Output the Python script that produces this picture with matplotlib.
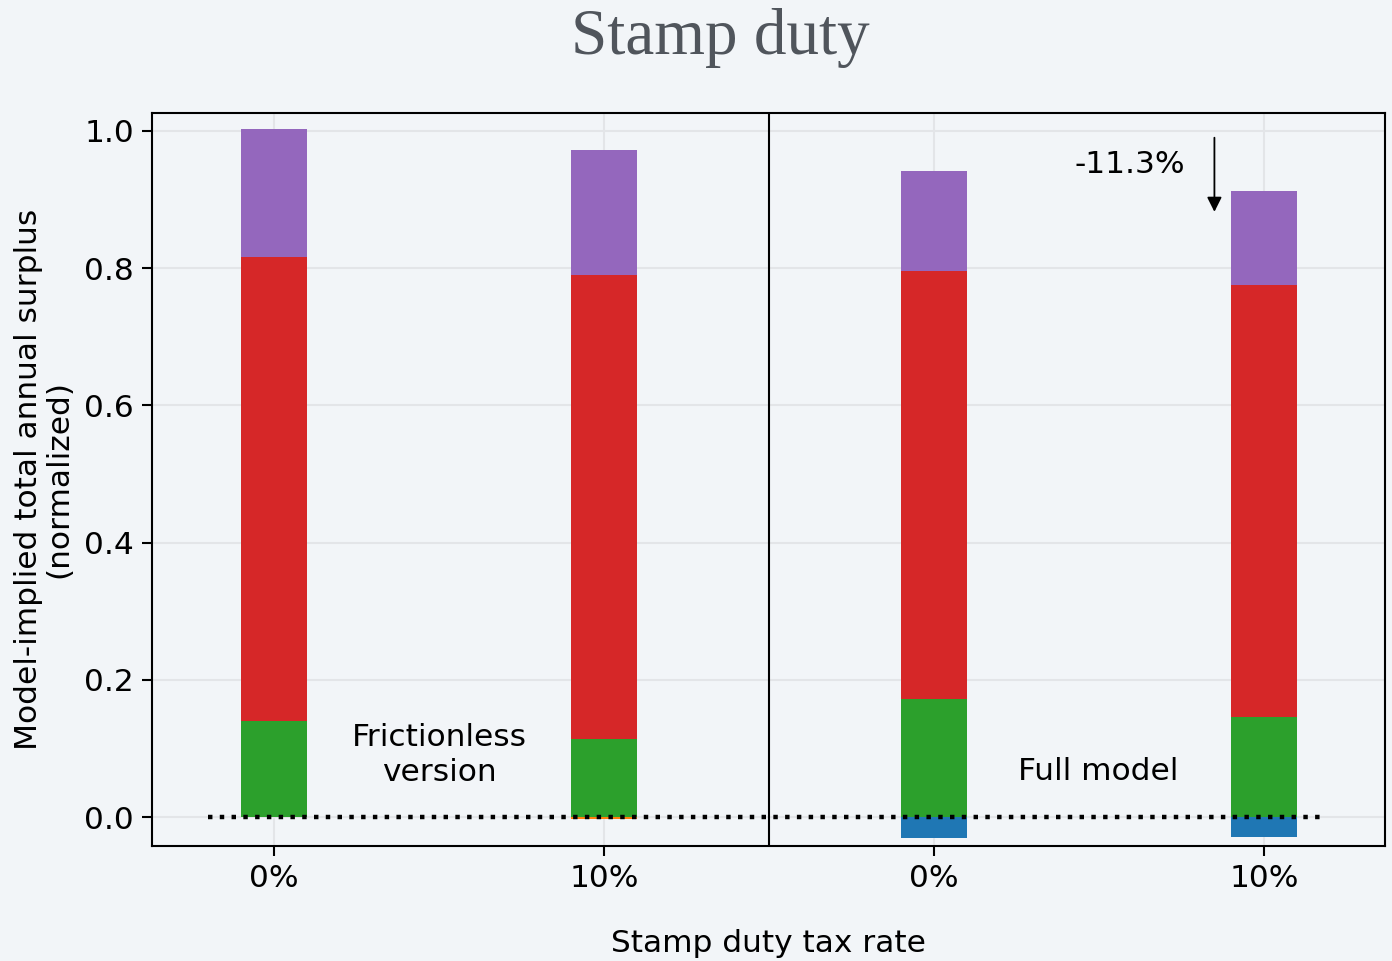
import matplotlib
matplotlib.use("Agg")
import matplotlib.pyplot as plt
import numpy as np

# Surplus components by scenario (normalized); negatives stack below zero
tick_labels = ["0%", "10%", "0%", "10%"]
comp_blue = [0.0, 0.0, -0.031, -0.029]
comp_orange = [0.0, -0.002, 0.0, 0.0]
comp_green = [0.140, 0.114, 0.172, 0.146]
comp_red = [0.676, 0.676, 0.624, 0.630]
comp_purple = [0.187, 0.182, 0.146, 0.137]
change_label = "-11.3%"

bg = "#f2f5f8"
colors = {"blue": "#1f77b4", "orange": "#ff7f0e", "green": "#2ca02c",
          "red": "#d62728", "purple": "#9467bd"}

plt.rcParams["font.family"] = ["DejaVu Sans"]
fs = 22.5

fig = plt.figure(figsize=(13.92, 9.61), dpi=100, facecolor=bg)
ax = fig.add_axes([152 / 1392, 1 - 846 / 961, (1385 - 152) / 1392, (846 - 113) / 961])
ax.set_facecolor(bg)

x = np.arange(len(tick_labels))
width = 0.2
pos_bottom = np.zeros(len(x))
neg_bottom = np.zeros(len(x))
for name, vals in [("blue", comp_blue), ("orange", comp_orange), ("green", comp_green),
                   ("red", comp_red), ("purple", comp_purple)]:
    vals = np.array(vals)
    bottoms = np.where(vals >= 0, pos_bottom, neg_bottom)
    ax.bar(x, vals, width, bottom=bottoms, color=colors[name], linewidth=0, zorder=3)
    pos_bottom = pos_bottom + np.where(vals >= 0, vals, 0)
    neg_bottom = neg_bottom + np.where(vals < 0, vals, 0)

ax.plot([-0.2, 3.18], [0, 0], linestyle=":", color="black", linewidth=3.2, zorder=4)
ax.axvline(1.5, color="black", linewidth=1.5, zorder=4)

ax.set_xlim(-0.37, 3.367)
ax.set_ylim(-0.042, 1.026)
ax.set_xticks(x)
ax.set_xticklabels(tick_labels)
ax.set_yticks([0.0, 0.2, 0.4, 0.6, 0.8, 1.0])
ax.set_yticklabels(["0.0", "0.2", "0.4", "0.6", "0.8", "1.0"])
ax.tick_params(labelsize=fs, length=7, width=1.5, pad=6)
ax.grid(True, color="#e3e5e8", linewidth=1.5, zorder=0)
for s in ax.spines.values():
    s.set_linewidth(1.5)

ax.set_xlabel("Stamp duty tax rate", fontsize=fs, labelpad=26)
ax.set_ylabel("Model-implied total annual surplus\n(normalized)", fontsize=fs,
              linespacing=1.05, labelpad=8)

ax.text(0.5, 0.091, "Frictionless\nversion", ha="center", va="center", fontsize=fs,
        linespacing=1.25, zorder=5)
ax.text(2.497, 0.066, "Full model", ha="center", va="center", fontsize=fs, zorder=5)

ax.annotate("", xy=(2.85, 0.882), xytext=(2.85, 0.99),
            arrowprops=dict(arrowstyle="-|>", color="black", lw=1.3,
                            mutation_scale=22, shrinkA=0, shrinkB=0), zorder=5)
ax.text(2.595, 0.951, change_label, ha="center", va="center", fontsize=fs, zorder=5)

fig.text(720 / 1392, 1 - 38 / 961, "Stamp duty", ha="center", va="center",
         fontsize=47, family=["Liberation Serif"], color="#50555c")

fig.savefig("out.png", dpi=100, facecolor=bg)
